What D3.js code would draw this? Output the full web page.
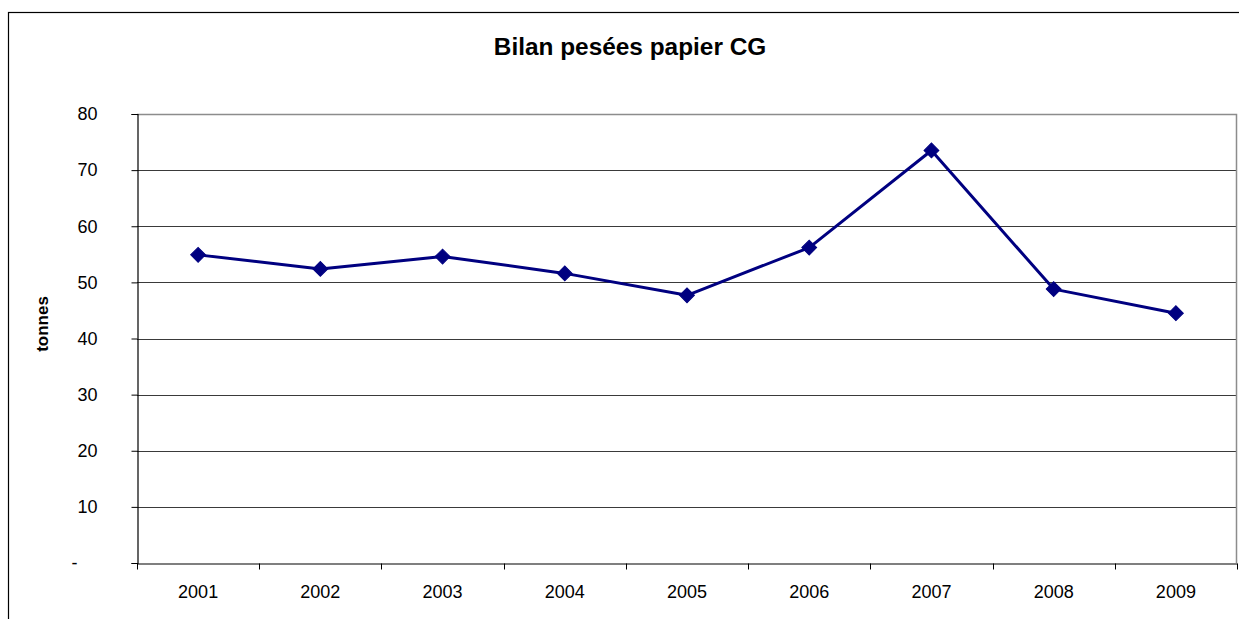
<!DOCTYPE html>
<html>
<head>
<meta charset="utf-8">
<script src="https://cdn.jsdelivr.net/npm/d3@7"></script>
<style>
  html, body { margin: 0; padding: 0; background: #fff; }
  svg { display: block; font-family: Arial, "Liberation Sans", sans-serif; }
</style>
</head>
<body>
<svg id="chart" width="1239" height="619"></svg>
<script>
// Annual paper weighing totals (tonnes)
const years = ["2001", "2002", "2003", "2004", "2005", "2006", "2007", "2008", "2009"];
const tonnes = [54.9, 52.4, 54.6, 51.6, 47.7, 56.2, 73.5, 48.8, 44.5];
const yTicks = [0, 10, 20, 30, 40, 50, 60, 70, 80];
const chartTitle = "Bilan pesées papier CG";
const yTitle = "tonnes";

const svg = d3.select("#chart");
const plot = { left: 137, top: 114, right: 1237, bottom: 563 };

// Outer chart frame (extends past the visible window on the right and bottom)
svg.append("rect")
  .attr("x", 8.5).attr("y", 12.5)
  .attr("width", 1260).attr("height", 640)
  .attr("fill", "#fff").attr("stroke", "#000").attr("stroke-width", 1.2);

const x = d3.scaleBand().domain(years).range([plot.left, plot.right]).padding(0);
const y = d3.scaleLinear().domain([0, 80]).range([plot.bottom, plot.top]);

// Gridlines
svg.append("g")
  .selectAll("line")
  .data(yTicks.filter(t => t > 0 && t < 80))
  .join("line")
  .attr("x1", plot.left).attr("x2", plot.right)
  .attr("y1", d => Math.round(y(d)) + 0.5).attr("y2", d => Math.round(y(d)) + 0.5)
  .attr("stroke", "#3a3a3a").attr("stroke-width", 1);

// Plot area border (top and right)
svg.append("path")
  .attr("d", `M${plot.left},${plot.top + 0.5}H${plot.right - 0.5}V${plot.bottom}`)
  .attr("fill", "none").attr("stroke", "#8c8c8c").attr("stroke-width", 1.5);

// Y axis
const yAxis = d3.axisLeft(y)
  .tickValues(yTicks)
  .tickSize(6)
  .tickPadding(34)
  .tickFormat(d => d === 0 ? "-" : d3.format("d")(d));

const gy = svg.append("g")
  .attr("transform", `translate(${plot.left + 0.5},0)`)
  .call(yAxis);
gy.select(".domain").attr("stroke", "#000").attr("stroke-width", 1.2);
gy.selectAll(".tick line").attr("stroke", "#000");
gy.selectAll(".tick text")
  .attr("font-size", 18).attr("fill", "#000")
  .attr("font-family", "Arial, 'Liberation Sans', sans-serif")
  .filter(d => d === 0).attr("x", -60);

// X axis with ticks between categories
const xAxis = d3.axisBottom(x).tickSize(0).tickPadding(22);
const gx = svg.append("g")
  .attr("transform", `translate(0,${plot.bottom + 0.5})`)
  .call(xAxis);
gx.select(".domain").attr("stroke", "#000").attr("stroke-width", 1.2);
gx.selectAll(".tick text")
  .attr("font-size", 18).attr("fill", "#000")
  .attr("font-family", "Arial, 'Liberation Sans', sans-serif");

const boundaries = years.map(d => x(d)).concat([x.range()[1]]);
gx.append("g").selectAll("line")
  .data(boundaries)
  .join("line")
  .attr("x1", d => Math.round(d) + 0.5).attr("x2", d => Math.round(d) + 0.5)
  .attr("y1", 0).attr("y2", 6)
  .attr("stroke", "#000").attr("stroke-width", 1);

// Series line
const cx = d => x(d) + x.bandwidth() / 2;
const line = d3.line()
  .x((d, i) => cx(years[i]))
  .y(d => y(d));

svg.append("path")
  .datum(tonnes)
  .attr("d", line)
  .attr("fill", "none")
  .attr("stroke", "#000080")
  .attr("stroke-width", 3)
  .attr("stroke-linejoin", "round");

// Diamond markers
const diamond = d3.symbol().type(d3.symbolSquare).size(110);
svg.append("g")
  .selectAll("path")
  .data(tonnes)
  .join("path")
  .attr("d", diamond)
  .attr("transform", (d, i) => `translate(${cx(years[i])},${y(d)}) rotate(45)`)
  .attr("fill", "#000080")
  .attr("stroke", "#000080")
  .attr("stroke-width", 1);

// Title
svg.append("text")
  .attr("x", 630).attr("y", 55)
  .attr("text-anchor", "middle")
  .attr("font-size", 24.4).attr("font-weight", "bold")
  .text(chartTitle);

// Y axis title
svg.append("text")
  .attr("transform", `translate(48,324) rotate(-90)`)
  .attr("text-anchor", "middle")
  .attr("font-size", 17).attr("font-weight", "bold")
  .text(yTitle);
</script>
</body>
</html>
